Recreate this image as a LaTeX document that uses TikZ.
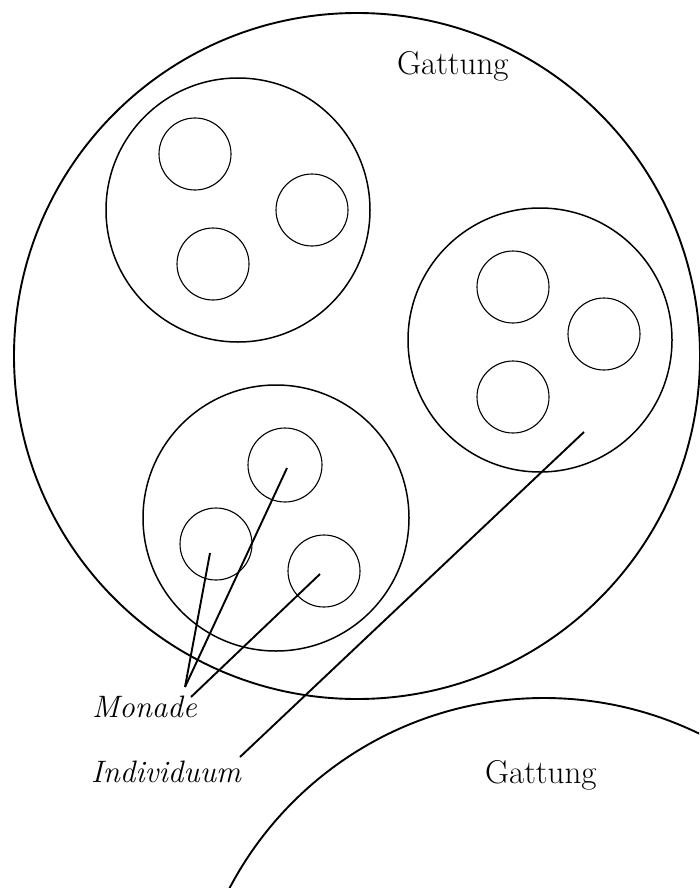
\documentclass[tikz,border=0pt]{standalone}
\begin{document}
\begin{tikzpicture}[x=1pt,y=-1pt,
  gattungc/.style={circle,draw,line width=1.9pt,inner sep=0pt},
  indiv/.style={circle,draw,line width=1.5pt,inner sep=0pt,minimum size=264pt},
  monad/.style={circle,draw,line width=1.1pt,inner sep=0pt,minimum size=72pt},
  lbl/.style={font=\fontsize{31}{37}\selectfont\itshape,inner sep=0pt,anchor=base west},
  glbl/.style={font=\fontsize{33}{39}\selectfont,inner sep=0pt,anchor=base west},
  conn/.style={line width=1.9pt}]
\useasboundingbox (0,0) rectangle (699,888);
\fill[white] (0,0) rectangle (699,888);
% big Gattung circle
\node[gattungc,minimum size=686pt] (G1) at (357,356) {};
% second Gattung circle (partly shown)
\begin{scope}
\clip (0,0) rectangle (699,888);
\node[gattungc,minimum size=710pt] (G2) at (544,1053) {};
\end{scope}
% individuals
\node[indiv] (I1) at (238,210) {};
\node[indiv] (I2) at (540,340) {};
\node[indiv,minimum size=266pt] (I3) at (276,518) {};
% monads
\node[monad] (a) at (195,154) {};
\node[monad] (b) at (312,210) {};
\node[monad] (c) at (213,264) {};
\node[monad] (d) at (513,287) {};
\node[monad] (e) at (604,334) {};
\node[monad] (f) at (513,397) {};
\node[monad,minimum size=74pt] (g) at (285,465) {};
\node[monad] (h) at (216,544) {};
\node[monad] (i) at (324,571) {};
% labels
\node[glbl] (gt1) at (397,75) {Gattung};
\node[glbl] (gt2) at (485,783) {Gattung};
\node[lbl] (mon) at (92,717) {Monade};
\node[lbl] (ind) at (91,782) {Individuum};
% connector end points
\coordinate (m1) at (185,687);
\coordinate (m2) at (191,697);
\coordinate (hp) at (210,553);
\coordinate (gp) at (287,468);
\coordinate (ip) at (320,574);
\coordinate (n1) at (240,757);
\coordinate (ip2) at (584,432);
\draw[conn] (m1) -- (hp);
\draw[conn] (m1) -- (gp);
\draw[conn] (m2) -- (ip);
\draw[conn] (n1) -- (ip2);
\end{tikzpicture}
\end{document}
